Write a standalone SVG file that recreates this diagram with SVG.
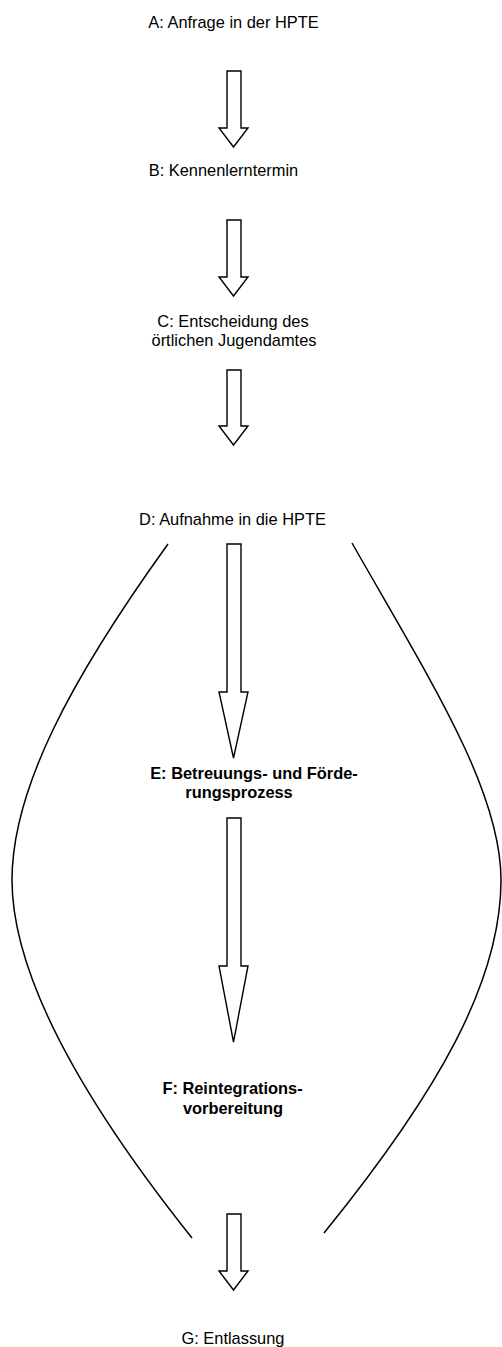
<svg xmlns="http://www.w3.org/2000/svg" width="502" height="1347" viewBox="0 0 502 1347">
<style>
.t{font-family:"Liberation Sans",Arial,sans-serif;font-size:16.4px;fill:#000;text-anchor:middle}
.b{font-weight:bold}
.arr{fill:#fff;stroke:#000;stroke-width:1.4}
.crv{fill:none;stroke:#000;stroke-width:1.5}
</style>
<rect width="502" height="1347" fill="#fff"/>
<g id="A"><text class="t" x="233.5" y="28">A: Anfrage in der HPTE</text></g>
<g id="B"><text class="t" x="223.5" y="176">B: Kennenlerntermin</text></g>
<g id="C"><text class="t" x="233" y="327">C: Entscheidung des</text><text class="t" x="234" y="346">örtlichen Jugendamtes</text></g>
<g id="D"><text class="t" x="232.5" y="525">D: Aufnahme in die HPTE</text></g>
<g id="E"><text class="t b" x="254" y="779">E: Betreuungs- und Förde-</text><text class="t b" x="239" y="798">rungsprozess</text></g>
<g id="F"><text class="t b" x="232.5" y="1094">F: Reintegrations-</text><text class="t b" x="233" y="1114">vorbereitung</text></g>
<g id="G"><text class="t" x="233" y="1344">G: Entlassung</text></g>
<g id="connectors">
<path class="arr" d="M227 71H241V128H248L233.5 147L219 128H227Z"/>
<path class="arr" d="M227 220H241V277H248L233.5 296L219 277H227Z"/>
<path class="arr" d="M227 370H241V426H248L233.5 445L219 426H227Z"/>
<path class="arr" d="M227 544H241V692H248L233.5 758L219 692H227Z"/>
<path class="arr" d="M227 818H241V966H248L233.5 1042L219 966H227Z"/>
<path class="arr" d="M227 1214H241V1271H248L233.5 1290L219 1271H227Z"/>
<path class="crv" d="M168 544C70 680 12 790 12 880C12 980 90 1110 192 1238"/>
<path class="crv" d="M352 543C430 680 501 790 501 880C501 980 440 1090 324 1233"/>
</g>
</svg>
